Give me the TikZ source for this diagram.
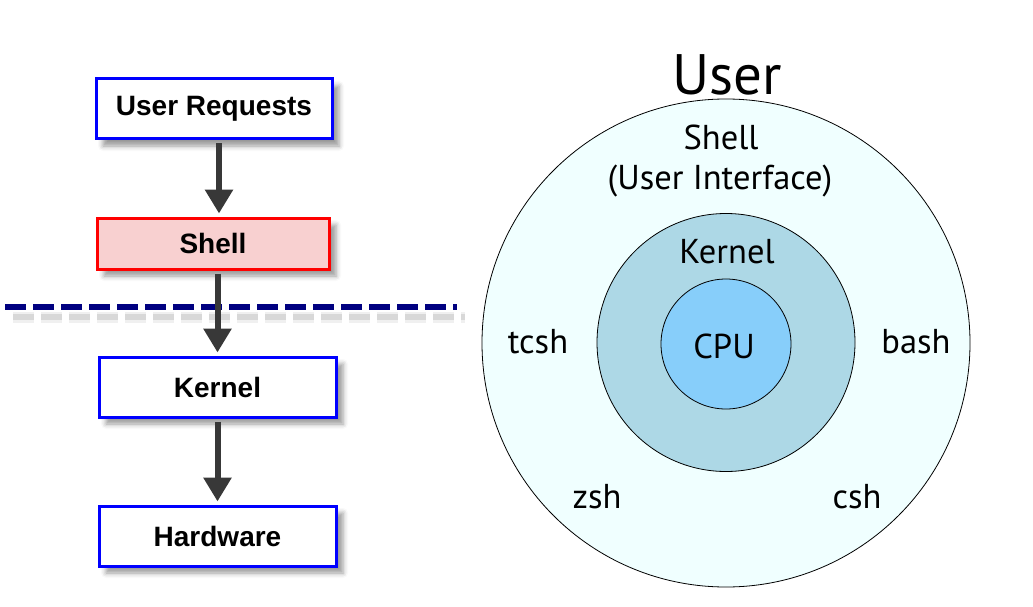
\documentclass[tikz,border=0pt]{standalone}
\usepackage{fontspec}
\usetikzlibrary{arrows.meta,shadows.blur}
\newfontfamily\boxfont{Liberation Sans}
\newfontfamily\ringfont{PT Sans}
\definecolor{boxblue}{RGB}{0,0,255}
\definecolor{boxred}{RGB}{255,0,0}
\definecolor{shellpink}{RGB}{248,208,208}
\definecolor{navy}{RGB}{0,0,128}
\definecolor{arrowgray}{RGB}{56,56,56}
\definecolor{outerfill}{RGB}{240,255,255}
\definecolor{kernelfill}{RGB}{173,216,230}
\definecolor{cpufill}{RGB}{135,206,250}
\tikzset{
  flowbox/.style={draw=boxblue, line width=3pt, fill=white, minimum width=236pt, minimum height=60pt,
    inner sep=0pt, font=\boxfont\bfseries\fontsize{28}{33}\selectfont,
    blur shadow={shadow xshift=7pt, shadow yshift=-7pt, shadow blur radius=5pt, shadow opacity=40}},
  flowarrow/.style={draw=arrowgray, line width=6pt, -{Triangle[width=27pt,length=24pt]}, shorten >=3pt},
  dashline/.style={line width=6pt, dash pattern=on 21pt off 7pt},
  ring/.style={circle, draw=black, line width=0.8pt, inner sep=0pt},
  ringlabel/.style={font=\ringfont\fontsize{34.5}{41}\selectfont, inner sep=0pt, align=center}
}
\begin{document}
\begin{tikzpicture}[x=1pt,y=-1pt]
\useasboundingbox (0,0) rectangle (1033,607);
% left flow
\node[flowbox] (ur) at (214,109) {User Requests};
\node[flowbox, draw=boxred, fill=shellpink, minimum width=232pt, minimum height=51pt] (sh) at (213,243.5) {Shell};
\node[flowbox, minimum width=237pt] (kn) at (217.5,387) {Kernel};
\node[flowbox, minimum width=237pt] (hw) at (217.5,536) {Hardware};
% dashed boundary
\coordinate (d1) at (5,307);
\coordinate (d2) at (457,307);
\draw[dashline, black, opacity=0.06, line width=11pt] ([xshift=8pt,yshift=-10pt]d1) -- ([xshift=8pt,yshift=-10pt]d2);
\draw[dashline, black, opacity=0.10] ([xshift=8pt,yshift=-10pt]d1) -- ([xshift=8pt,yshift=-10pt]d2);
\draw[dashline, navy] (d1) -- (d2);
% arrows
\draw[flowarrow] ([xshift=5pt,yshift=-3pt]ur.south) -- ([xshift=5pt]ur.south |- sh.north);
\draw[flowarrow] ([xshift=4.5pt,yshift=-3pt]sh.south) -- (kn.north);
\draw[flowarrow] ([yshift=-3pt]kn.south) -- (hw.north);
% rings
\node[ring, fill=outerfill, minimum size=488pt] (outer) at (726,343) {};
\node[ring, fill=kernelfill, minimum size=258pt] (kring) at (726,342.5) {};
\node[ring, fill=cpufill, minimum size=130pt] (cpu) at (726,344) {};
\node[font=\ringfont\fontsize{57}{66}\selectfont, inner sep=0pt] (user) at (727,75) {User};
\node[ringlabel] (shl) at (721,137) {Shell};
\node[ringlabel] (ui) at (720,181) {(User Interface)};
\node[ringlabel] (kl) at (727,252) {Kernel};
\node[ringlabel] (cl) at (724,346) {CPU};
\node[ringlabel] (tcsh) at (538,342) {tcsh};
\node[ringlabel] (bash) at (916,342) {bash};
\node[ringlabel] (zsh) at (597,497) {zsh};
\node[ringlabel] (csh) at (857,497) {csh};
\end{tikzpicture}
\end{document}
